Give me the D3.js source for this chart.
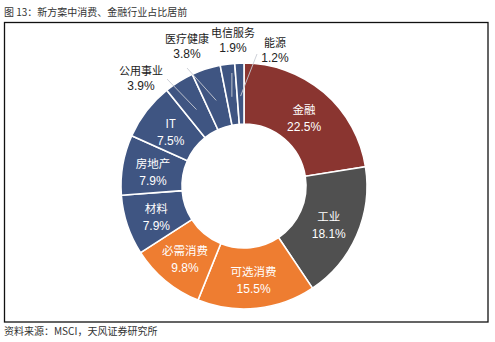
<!DOCTYPE html>
<html><head><meta charset="utf-8">
<script src="https://cdn.jsdelivr.net/npm/d3@7"></script>
<style>body{margin:0;background:#fff;}svg{display:block;font-family:"Noto Sans CJK SC","Liberation Sans",Arial,sans-serif;}</style>
</head><body>
<svg id="c" width="495" height="342"></svg>
<script>
const categories = ["金融","工业","可选消费","必需消费","材料","房地产","IT","公用事业","医疗健康","电信服务","能源"];
const values = [22.5,18.1,15.5,9.8,7.9,7.9,7.5,3.9,3.8,1.9,1.2];
const groups = ["fin","ind","cons","cons","blue","blue","blue","blue","blue","blue","blue"];
const colorMap = {fin:"#8a3530", ind:"#505050", cons:"#ee7d31", blue:"#3f5582"};
const title = "图 13：新方案中消费、金融行业占比居前";
const source = "资料来源：MSCI，天风证券研究所";

const svg = d3.select("#c");
const cx = 244, cy = 186, rO = 123, rI = 62;

svg.append("text").attr("x",4).attr("y",16).attr("font-size",10).attr("fill","#333").text(title);
svg.append("rect").attr("x",4.5).attr("y",22.5).attr("width",483.5).attr("height",299.5)
  .attr("fill","none").attr("stroke","#111").attr("stroke-width",1.3);
svg.append("text").attr("x",4).attr("y",335).attr("font-size",10).attr("fill","#333").text(source);

const data = categories.map((c,i)=>({name:c, value:values[i], group:groups[i]}));
const pie = d3.pie().value(d=>d.value).sort(null);
const arcs = pie(data);
const arc = d3.arc().innerRadius(rI).outerRadius(rO);
const g = svg.append("g").attr("transform",`translate(${cx},${cy})`);
g.selectAll("path").data(arcs).join("path")
  .attr("d",arc).attr("fill",d=>colorMap[d.data.group])
  .attr("stroke","#fff").attr("stroke-width",1.6);

// inside labels
const inside = arcs.slice(0,7);
const labArc = d3.arc().innerRadius((rI+rO)/2).outerRadius((rI+rO)/2);
inside.forEach(a=>{
  const [x,y] = labArc.centroid(a);
  const t = g.append("text").attr("text-anchor","middle").attr("fill","#fff").attr("font-size",11.5);
  t.append("tspan").attr("x",x).attr("y",y-2).text(a.data.name);
  t.append("tspan").attr("x",x).attr("y",y+15).attr("font-family","Liberation Sans, Arial").attr("font-size",12).text(d3.format(".1f")(a.data.value)+"%");
});

// outside labels with leader lines
const outPos = {"公用事业":[141,75],"医疗健康":[187,43],"电信服务":[233,37],"能源":[275,47]};
arcs.slice(7).forEach(a=>{
  const [lx,ly] = outPos[a.data.name];
  const t = svg.append("text").attr("text-anchor","middle").attr("fill","#222").attr("font-size",11);
  t.append("tspan").attr("x",lx).attr("y",ly).text(a.data.name);
  t.append("tspan").attr("x",lx).attr("y",ly+15).attr("font-family","Liberation Sans, Arial").attr("font-size",12).text(d3.format(".1f")(a.data.value)+"%");
  const mid = (a.startAngle+a.endAngle)/2;
  const px = cx + Math.sin(mid)*(rI+28), py = cy - Math.cos(mid)*(rI+28);
  let sx, sy;
  if (a.data.name==="公用事业") {sx=lx+26; sy=ly+4;}
  else if (a.data.name==="能源") {sx=lx-18; sy=ly+7;}
  else if (a.data.name==="电信服务") {sx=px; sy=ly+36;}
  else {sx=lx; sy=ly+25;}
  svg.append("path").attr("d",`M${sx},${sy}L${px},${py}`)
    .attr("stroke","#c8ccd4").attr("stroke-width",0.9).attr("fill","none");
});
</script>
</body></html>
